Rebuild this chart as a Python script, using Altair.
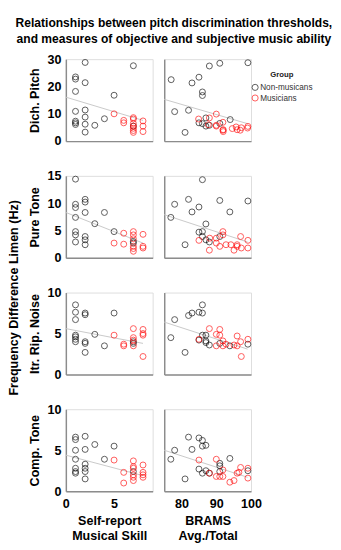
import altair as alt
import pandas as pd

FONT = "Liberation Sans"
GROUPS = ["Non-musicans", "Musicians"]
COLORS = ["#000000", "#ff0000"]

# ---- Row 1: Dich. Pitch ----
p1l_nm_x = [1, 1, 1, 1, 1, 1, 1, 2, 2, 2, 2, 2, 2, 3, 4, 5, 7, 7]
p1l_nm_y = [23.5, 22.7, 18.2, 10.9, 7.3, 6.7, 6.1, 28.8, 21.4, 11.4, 8.8, 6.2, 3.3, 5.8, 8.2, 16.8, 27.6, 5.5]
p1l_m_x = [5, 6, 6, 7, 7, 7, 7, 7, 7, 7, 8, 8, 8]
p1l_m_y = [10.0, 7.6, 6.7, 8.6, 8.1, 6.5, 5.5, 4.7, 3.9, 3.2, 7.4, 5.5, 3.5]
p1r_nm_x = [77.0, 78.0, 81.0, 82.0, 83.0, 85.0, 86.0, 86.0, 88.0, 91.0, 99.1, 85.0, 86.0, 87.0, 87.0, 88.0, 91.0, 94.0]
p1r_nm_y = [22.5, 10.8, 3.2, 11.3, 21.3, 23.4, 18.0, 16.7, 27.5, 28.5, 28.7, 6.7, 6.4, 8.5, 5.5, 5.8, 6.5, 7.9]
p1r_m_x = [84.9, 88.0, 90.0, 87.7, 90.0, 91.9, 92.0, 92.0, 94.6, 95.7, 96.0, 96.9, 97.2, 99.0, 99.1, 90.0, 91.9]
p1r_m_y = [8.1, 8.5, 9.9, 6.0, 5.8, 6.9, 4.2, 3.5, 4.6, 5.2, 4.2, 4.0, 4.9, 4.8, 5.4, 5.5, 4.0]

# ---- Row 2: Pure Tone ----
p2l_nm_x = [1, 1, 1, 1, 1, 1, 1, 2, 2, 2, 2, 2, 2, 3, 4, 5, 7, 7]
p2l_nm_y = [14.4, 9.8, 9.2, 7.4, 4.8, 4.2, 2.9, 10.7, 10.2, 8.3, 3.9, 3.3, 2.4, 6.25, 8.3, 4.8, 3.0, 2.7]
p2l_m_x = [5, 6, 6, 7, 7, 7, 7, 7, 7, 8, 8, 8]
p2l_m_y = [2.7, 4.5, 2.5, 4.8, 4.2, 3.5, 2.1, 1.7, 1.2, 4.3, 2.1, 1.8]
p2r_nm_x = [76.9, 78.0, 81.0, 82.0, 83.0, 85.0, 86.0, 87.0, 85.0, 86.0, 86.0, 87.0, 88.0, 91.0, 91.0, 93.9, 99.1]
p2r_nm_y = [7.4, 9.8, 2.4, 10.7, 8.4, 9.3, 14.3, 6.2, 4.7, 4.8, 3.9, 3.3, 2.9, 10.5, 3.9, 8.4, 10.4]
p2r_m_x = [85.0, 88.0, 88.1, 90.0, 90.0, 91.9, 91.9, 91.0, 92.8, 94.2, 95.1, 96.0, 96.0, 97.0, 97.2, 99.1, 99.1]
p2r_m_y = [3.2, 1.4, 3.6, 3.6, 2.7, 4.8, 4.2, 2.1, 2.4, 2.4, 1.4, 2.4, 2.1, 3.9, 1.8, 3.2, 1.8]

# ---- Row 3: Itr. Rip. Noise ----
p3l_nm_x = [1, 1, 1, 1, 1, 1, 1, 2, 2, 2, 2, 2, 3, 4, 5, 7, 7]
p3l_nm_y = [8.5, 7.6, 6.7, 4.8, 4.6, 4.3, 4.0, 7.5, 7.3, 4.0, 3.8, 2.7, 4.9, 3.5, 7.5, 4.0, 3.8]
p3l_m_x = [5, 6, 6, 7, 7, 7, 7, 8, 8, 8, 8]
p3l_m_y = [4.8, 3.7, 3.5, 5.6, 4.5, 4.2, 3.5, 5.5, 5.0, 4.8, 2.2]
p3r_nm_x = [76.9, 78.0, 81.0, 82.0, 83.0, 85.0, 86.0, 86.0, 85.0, 86.0, 87.0, 87.0, 87.0, 88.0, 91.0, 93.9, 99.1]
p3r_nm_y = [4.5, 6.7, 2.7, 7.2, 7.5, 7.6, 7.5, 8.5, 4.2, 4.8, 4.8, 4.1, 3.9, 3.6, 3.8, 3.5, 3.7]
p3r_m_x = [85.0, 88.0, 90.0, 91.0, 91.0, 90.0, 91.9, 91.9, 92.8, 95.1, 96.0, 96.0, 97.0, 97.2, 99.1]
p3r_m_y = [4.3, 5.6, 4.9, 5.5, 4.8, 3.5, 4.1, 3.5, 3.7, 3.6, 4.7, 3.5, 4.0, 2.2, 4.3]

# ---- Row 4: Comp. Tone ----
p4l_nm_x = [1, 1, 1, 1, 1, 1, 1, 2, 2, 2, 2, 2, 2, 3, 4, 5, 7]
p4l_nm_y = [6.6, 6.3, 5.0, 3.9, 2.8, 2.4, 2.2, 6.7, 5.1, 3.3, 2.8, 2.4, 1.5, 5.7, 3.9, 5.5, 2.4]
p4l_m_x = [5, 6, 6, 7, 7, 7, 7, 7, 7, 8, 8, 8, 8]
p4l_m_y = [3.8, 2.3, 1.0, 3.7, 3.0, 2.8, 2.0, 1.7, 1.3, 3.2, 2.3, 2.0, 1.7]
p4r_nm_x = [76.9, 78.0, 81.0, 82.0, 83.0, 85.0, 86.0, 86.0, 87.0, 85.0, 86.0, 87.0, 88.0, 91.0, 91.0, 91.0, 93.9, 99.1]
p4r_nm_y = [3.9, 5.0, 1.5, 6.6, 5.1, 6.5, 6.2, 5.5, 5.6, 2.7, 2.2, 2.5, 2.2, 3.4, 3.1, 2.4, 4.0, 2.5]
p4r_m_x = [85.0, 88.0, 90.0, 90.0, 91.0, 91.9, 91.9, 93.9, 95.1, 96.0, 96.5, 97.0, 99.1, 99.1]
p4r_m_y = [3.8, 2.2, 3.9, 1.8, 1.8, 2.6, 1.8, 1.1, 1.3, 2.2, 2.3, 2.9, 2.8, 1.6]

# ---- fitted trend lines (end points) ----
line_left_x = [0, 8]
line_right_x = [75, 99]
line1_left_y = [16.1, 7.6]
line1_right_y = [15.3, 6.4]
line2_left_y = [8.3, 2.7]
line2_right_y = [7.9, 2.9]
line3_left_y = [5.6, 3.8]
line3_right_y = [6.4, 3.1]
line4_left_y = [4.4, 1.9]
line4_right_y = [5.0, 1.7]

row_titles = ["Dich. Pitch", "Pure Tone", "Itr. Rip. Noise", "Comp. Tone"]
y_domains = [[0, 30], [0, 15], [0, 10], [0, 10]]
y_ticks = [[0, 10, 20, 30], [0, 5, 10, 15], [0, 5, 10], [0, 5, 10]]
left_x_domain = [0, 9]
left_x_ticks = [0, 5]
right_x_domain = [75, 100]
right_x_ticks = [80, 90, 100]
left_x_title = ["Self-report", "Musical Skill"]
right_x_title = ["BRAMS", "Avg./Total"]

W, H = 90, 85

legend = alt.Legend(
    title="Group", orient="none", legendX=192, legendY=13,
    titleFont=FONT, titleFontSize=8, titleFontWeight="bold", titleColor="#222",
    titleAnchor="middle", titlePadding=4,
    labelFont=FONT, labelFontSize=8.5, labelColor="#333", labelOffset=1,
    symbolSize=40, symbolStrokeWidth=1, symbolType="circle", rowPadding=0,
)


def panel(nm_x, nm_y, m_x, m_y, lx, ly, xdom, xticks, ydom, yticks,
          ytitle, xtitle, bottom, left):
    pts = pd.DataFrame({
        "x": list(nm_x) + list(m_x),
        "y": list(nm_y) + list(m_y),
        "group": [GROUPS[0]] * len(nm_x) + [GROUPS[1]] * len(m_x),
    })
    ln = pd.DataFrame({"x": lx, "y": ly})
    xaxis = alt.Axis(
        values=xticks, labels=bottom, ticks=False, grid=False,
        title=xtitle if bottom else None, labelPadding=7, titlePadding=5,
        domainColor="#8c8c8c", domainWidth=1.5,
        labelFont=FONT, labelFontSize=13, labelFontWeight="bold", labelColor="#000",
        titleFont=FONT, titleFontSize=13, titleFontWeight="bold", titleColor="#000",
        titleLineHeight=15, labelFlush=False,
    )
    yaxis = alt.Axis(
        values=yticks, labels=left, ticks=False, grid=False,
        title=ytitle if left else None, labelPadding=5, titlePadding=6,
        domainColor="#8c8c8c", domainWidth=1.5,
        labelFont=FONT, labelFontSize=13, labelFontWeight="bold", labelColor="#000",
        titleFont=FONT, titleFontSize=13, titleFontWeight="bold", titleColor="#000",
        labelFlush=False,
    )
    xs = alt.Scale(domain=xdom, nice=False, zero=False)
    ys = alt.Scale(domain=ydom, nice=False, zero=False)
    line = alt.Chart(ln).mark_line(color="#c8c8c8", strokeWidth=1).encode(
        x=alt.X("x:Q", scale=xs, axis=xaxis),
        y=alt.Y("y:Q", scale=ys, axis=yaxis),
    )
    points = alt.Chart(pts).mark_point(
        shape="circle", filled=False, size=38, strokeWidth=1, opacity=0.65
    ).encode(
        x=alt.X("x:Q", scale=xs, axis=xaxis),
        y=alt.Y("y:Q", scale=ys, axis=yaxis),
        color=alt.Color("group:N", scale=alt.Scale(domain=GROUPS, range=COLORS), legend=legend),
    )
    return alt.layer(line, points).properties(width=W, height=H)


rows_data = [
    (p1l_nm_x, p1l_nm_y, p1l_m_x, p1l_m_y, line1_left_y, p1r_nm_x, p1r_nm_y, p1r_m_x, p1r_m_y, line1_right_y),
    (p2l_nm_x, p2l_nm_y, p2l_m_x, p2l_m_y, line2_left_y, p2r_nm_x, p2r_nm_y, p2r_m_x, p2r_m_y, line2_right_y),
    (p3l_nm_x, p3l_nm_y, p3l_m_x, p3l_m_y, line3_left_y, p3r_nm_x, p3r_nm_y, p3r_m_x, p3r_m_y, line3_right_y),
    (p4l_nm_x, p4l_nm_y, p4l_m_x, p4l_m_y, line4_left_y, p4r_nm_x, p4r_nm_y, p4r_m_x, p4r_m_y, line4_right_y),
]

rows = []
for i, (lnx, lny, lmx, lmy, lly, rnx, rny, rmx, rmy, rly) in enumerate(rows_data):
    bottom = i == 3
    left_p = panel(lnx, lny, lmx, lmy, line_left_x, lly, left_x_domain, left_x_ticks,
                   y_domains[i], y_ticks[i], row_titles[i], left_x_title, bottom, True)
    right_p = panel(rnx, rny, rmx, rmy, line_right_x, rly, right_x_domain, right_x_ticks,
                    y_domains[i], y_ticks[i], None, right_x_title, bottom, False)
    rows.append(alt.hconcat(left_p, right_p, spacing=8))

grid = alt.vconcat(*rows, spacing=21).properties(
    title=alt.TitleParams(
        "Frequency Difference Limen (Hz)", orient="left", anchor="middle",
        font=FONT, fontSize=13, fontWeight="bold", color="#000", offset=8,
    )
)

chart = alt.vconcat(grid).properties(
    title=alt.TitleParams(
        ["Relationships between pitch discrimination thresholds,",
         "and measures of objective and subjective music ability"],
        anchor="middle", font=FONT, fontSize=12.5, fontWeight="bold", color="#000",
        lineHeight=16, offset=8, dx=14,
    )
).configure_view(stroke=None).configure(padding=0, background="white")

chart.save("out.html", embed_options={"renderer": "svg", "actions": False})
